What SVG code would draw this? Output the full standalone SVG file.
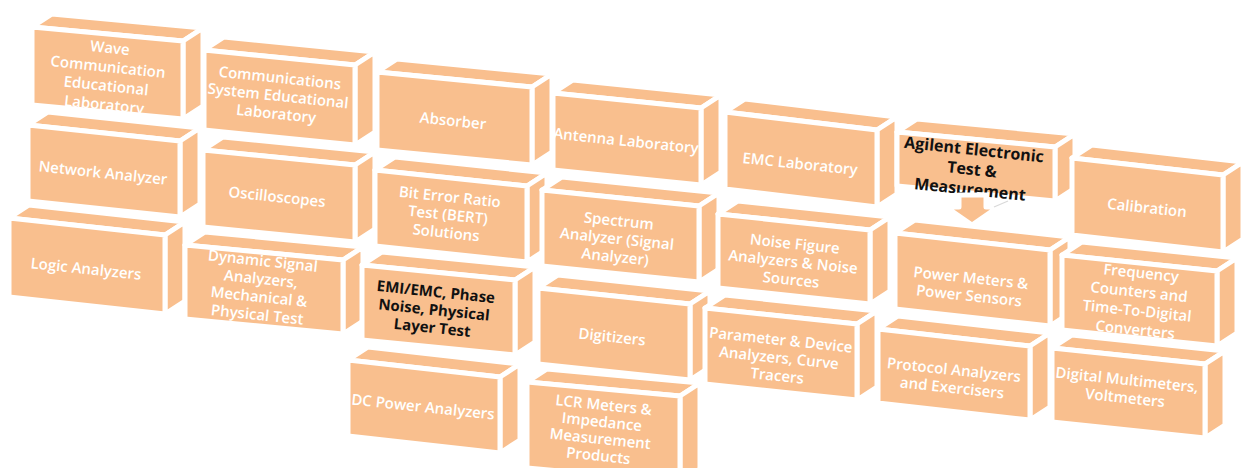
<svg xmlns="http://www.w3.org/2000/svg" width="1250" height="468" viewBox="0 0 1250 468">
  <style>
    .f { fill: #F9BF8E; stroke: #FFFFFF; stroke-width: 5; stroke-linejoin: round; }
    .t { font-family: "Open Sans", "Noto Sans", sans-serif; font-weight: 600; font-size: 15px; fill: #FFFFFF; text-anchor: middle; }
    .k { font-family: "Open Sans", "Noto Sans", sans-serif; font-weight: 700; font-size: 15px; fill: #111111; text-anchor: middle; }
    .big { font-size: 16px; }
  </style>
  <rect width="1250" height="468" fill="#FFFFFF"/>

  <!-- column 1 -->
  <g id="wave">
    <polygon class="f" points="32,27 183,41 203,28 52,14"/>
    <polygon class="f" points="183,41 203,28 203,106 183,119"/>
    <polygon class="f" points="32,27 183,41 183,119 32,105"/>
    <text class="t" transform="translate(107,77) rotate(6)"><tspan x="0" y="-24">Wave</tspan><tspan x="0" y="-5">Communication</tspan><tspan x="0" y="14">Educational</tspan><tspan x="0" y="33">Laboratory</tspan></text>
  </g>
  <g id="network">
    <polygon class="f" points="28,125 180,141 200,128 48,112"/>
    <polygon class="f" points="180,141 200,128 200,204 180,217"/>
    <polygon class="f" points="28,125 180,141 180,217 28,201"/>
    <text class="t" transform="translate(103,173) rotate(6)"><tspan x="0" y="5">Network Analyzer</tspan></text>
  </g>
  <g id="logic">
    <polygon class="f" points="9,218 165,235 185,222 29,205"/>
    <polygon class="f" points="165,235 185,222 185,301 165,314"/>
    <polygon class="f" points="9,218 165,235 165,314 9,297"/>
    <text class="t" transform="translate(86,269) rotate(6)"><tspan x="0" y="5">Logic Analyzers</tspan></text>
  </g>

  <!-- column 2 -->
  <g id="comm">
    <polygon class="f" points="204,50 355,65 375,52 224,37"/>
    <polygon class="f" points="355,65 375,52 375,132 355,145"/>
    <polygon class="f" points="204,50 355,65 355,145 204,130"/>
    <text class="t" transform="translate(278,96) rotate(6)"><tspan x="0" y="-13">Communications</tspan><tspan x="0" y="5">System Educational</tspan><tspan x="0" y="23">Laboratory</tspan></text>
  </g>
  <g id="osc">
    <polygon class="f" points="203,150 355,165 375,152 223,137"/>
    <polygon class="f" points="355,165 375,152 375,229 355,242"/>
    <polygon class="f" points="203,150 355,165 355,242 203,227"/>
    <text class="t" transform="translate(277,197) rotate(6)"><tspan x="0" y="5">Oscilloscopes</tspan></text>
  </g>
  <g id="dynamic">
    <polygon class="f" points="185,245 343,260 363,247 205,232"/>
    <polygon class="f" points="343,260 363,247 363,321 343,334"/>
    <polygon class="f" points="185,245 343,260 343,334 185,319"/>
    <text class="t" transform="translate(260,288) rotate(6)"><tspan x="0" y="-22">Dynamic Signal</tspan><tspan x="0" y="-4">Analyzers,</tspan><tspan x="0" y="14">Mechanical &amp;</tspan><tspan x="0" y="32">Physical Test</tspan></text>
  </g>

  <!-- column 3 -->
  <g id="absorber">
    <polygon class="f" points="377,72 532,87 552,74 397,59"/>
    <polygon class="f" points="532,87 552,74 552,152 532,165"/>
    <polygon class="f" points="377,72 532,87 532,165 377,150"/>
    <text class="t" transform="translate(453,121) rotate(6)"><tspan x="0" y="5">Absorber</tspan></text>
  </g>
  <g id="bert">
    <polygon class="f" points="375,170 527,186 547,173 395,157"/>
    <polygon class="f" points="527,186 547,173 547,249 527,262"/>
    <polygon class="f" points="375,170 527,186 527,262 375,246"/>
    <text class="t" transform="translate(448,215) rotate(6)"><tspan x="0" y="-13">Bit Error Ratio</tspan><tspan x="0" y="5">Test (BERT)</tspan><tspan x="0" y="23">Solutions</tspan></text>
  </g>
  <g id="emi">
    <polygon class="f" points="362,265 515,280 535,267 382,252"/>
    <polygon class="f" points="515,280 535,267 535,342 515,355"/>
    <polygon class="f" points="362,265 515,280 515,355 362,340"/>
    <text class="k" transform="translate(434,310) rotate(6)"><tspan x="0" y="-13">EMI/EMC, Phase</tspan><tspan x="0" y="5">Noise, Physical</tspan><tspan x="0" y="23">Layer Test</tspan></text>
  </g>
  <g id="dc">
    <polygon class="f" points="348,360 500,377 520,364 368,347"/>
    <polygon class="f" points="500,377 520,364 520,440 500,453"/>
    <polygon class="f" points="348,360 500,377 500,453 348,436"/>
    <text class="t" transform="translate(423,407) rotate(6)"><tspan x="0" y="5">DC Power Analyzers</tspan></text>
  </g>

  <!-- column 4 -->
  <g id="antenna">
    <polygon class="f" points="553,93 701,108 721,95 573,80"/>
    <polygon class="f" points="701,108 721,95 721,172 701,185"/>
    <polygon class="f" points="553,93 701,108 701,185 553,170"/>
    <text class="t" transform="translate(626,141) rotate(6)"><tspan x="0" y="5">Antenna Laboratory</tspan></text>
  </g>
  <g id="spectrum">
    <polygon class="f" points="542,190 699,206 719,193 562,177"/>
    <polygon class="f" points="699,206 719,193 719,269 699,282"/>
    <polygon class="f" points="542,190 699,206 699,282 542,266"/>
    <text class="t" transform="translate(617,239) rotate(6)"><tspan x="0" y="-13">Spectrum</tspan><tspan x="0" y="5">Analyzer (Signal</tspan><tspan x="0" y="23">Analyzer)</tspan></text>
  </g>
  <g id="digitizers">
    <polygon class="f" points="538,288 690,304 710,291 558,275"/>
    <polygon class="f" points="690,304 710,291 710,367 690,380"/>
    <polygon class="f" points="538,288 690,304 690,380 538,364"/>
    <text class="t" transform="translate(612,337) rotate(6)"><tspan x="0" y="5">Digitizers</tspan></text>
  </g>
  <g id="lcr">
    <polygon class="f" points="527,382 680,396 700,383 547,369"/>
    <polygon class="f" points="680,396 700,383 700,469 680,482"/>
    <polygon class="f" points="527,382 680,396 680,482 527,468"/>
    <text class="t" transform="translate(601,431) rotate(6)"><tspan x="0" y="-21">LCR Meters &amp;</tspan><tspan x="0" y="-4">Impedance</tspan><tspan x="0" y="13">Measurement</tspan><tspan x="0" y="30">Products</tspan></text>
  </g>

  <!-- column 5 -->
  <g id="emc">
    <polygon class="f" points="725,112 877,130 897,117 745,99"/>
    <polygon class="f" points="877,130 897,117 897,194 877,207"/>
    <polygon class="f" points="725,112 877,130 877,207 725,189"/>
    <text class="t" transform="translate(800,164) rotate(6)"><tspan x="0" y="5">EMC Laboratory</tspan></text>
  </g>
  <g id="noise">
    <polygon class="f" points="718,214 870,230 890,217 738,201"/>
    <polygon class="f" points="870,230 890,217 890,291 870,304"/>
    <polygon class="f" points="718,214 870,230 870,304 718,288"/>
    <text class="t" transform="translate(793,262) rotate(6)"><tspan x="0" y="-13">Noise Figure</tspan><tspan x="0" y="5">Analyzers &amp; Noise</tspan><tspan x="0" y="23">Sources</tspan></text>
  </g>
  <g id="param">
    <polygon class="f" points="705,308 857,324 877,311 725,295"/>
    <polygon class="f" points="857,324 877,311 877,387 857,400"/>
    <polygon class="f" points="705,308 857,324 857,400 705,384"/>
    <text class="t" transform="translate(779,358) rotate(6)"><tspan x="0" y="-13">Parameter &amp; Device</tspan><tspan x="0" y="5">Analyzers, Curve</tspan><tspan x="0" y="23">Tracers</tspan></text>
  </g>

  <!-- column 6 -->
  <g id="power">
    <polygon class="f" points="895,233 1050,250 1070,237 915,220"/>
    <polygon class="f" points="1050,250 1070,237 1070,313 1050,326"/>
    <polygon class="f" points="895,233 1050,250 1050,326 895,309"/>
    <text class="t" transform="translate(970,287) rotate(6)"><tspan x="0" y="-4">Power Meters &amp;</tspan><tspan x="0" y="14">Power Sensors</tspan></text>
  </g>
  <g id="protocol">
    <polygon class="f" points="878,329 1030,346 1050,333 898,316"/>
    <polygon class="f" points="1030,346 1050,333 1050,407 1030,420"/>
    <polygon class="f" points="878,329 1030,346 1030,420 878,403"/>
    <text class="t" transform="translate(953,379) rotate(6)"><tspan x="0" y="-4">Protocol Analyzers</tspan><tspan x="0" y="14">and Exercisers</tspan></text>
  </g>
  <g id="agilent">
    <polygon class="f" points="897,132 1055,147 1075,134 917,119"/>
    <polygon class="f" points="1055,147 1075,134 1075,188 1055,201"/>
    <polygon class="f" points="897,132 1055,147 1055,201 897,186"/>
    <text class="k big" transform="translate(972,170) rotate(6)"><tspan x="0" y="-15">Agilent Electronic</tspan><tspan x="0" y="5">Test &amp;</tspan><tspan x="0" y="25">Measurement</tspan></text>
  </g>

  <!-- column 7 -->
  <g id="calibration">
    <polygon class="f" points="1072,158 1223,175 1243,162 1092,145"/>
    <polygon class="f" points="1223,175 1243,162 1243,239 1223,252"/>
    <polygon class="f" points="1072,158 1223,175 1223,252 1072,235"/>
    <text class="t" transform="translate(1147,208) rotate(6)"><tspan x="0" y="5">Calibration</tspan></text>
  </g>
  <g id="freq">
    <polygon class="f" points="1062,255 1217,271 1237,258 1082,242"/>
    <polygon class="f" points="1217,271 1237,258 1237,333 1217,346"/>
    <polygon class="f" points="1062,255 1217,271 1217,346 1062,330"/>
    <text class="t" transform="translate(1138,302) rotate(6)"><tspan x="0" y="-24">Frequency</tspan><tspan x="0" y="-5">Counters and</tspan><tspan x="0" y="14">Time-To-Digital</tspan><tspan x="0" y="33">Converters</tspan></text>
  </g>
  <g id="digital">
    <polygon class="f" points="1052,348 1205,364 1225,351 1072,335"/>
    <polygon class="f" points="1205,364 1225,351 1225,425 1205,438"/>
    <polygon class="f" points="1052,348 1205,364 1205,438 1052,422"/>
    <text class="t" transform="translate(1126,389) rotate(6)"><tspan x="0" y="-4">Digital Multimeters,</tspan><tspan x="0" y="14">Voltmeters</tspan></text>
  </g>

  <!-- connectors -->
  <g id="connectors">
    <polygon class="f" points="959,195 986,195 986,207 998,207 972,225 946,207 959,207"/>
    <path d="M994,207 L1008,201" fill="none" stroke="#D9D9D9" stroke-width="1.2"/>
  </g>
</svg>
